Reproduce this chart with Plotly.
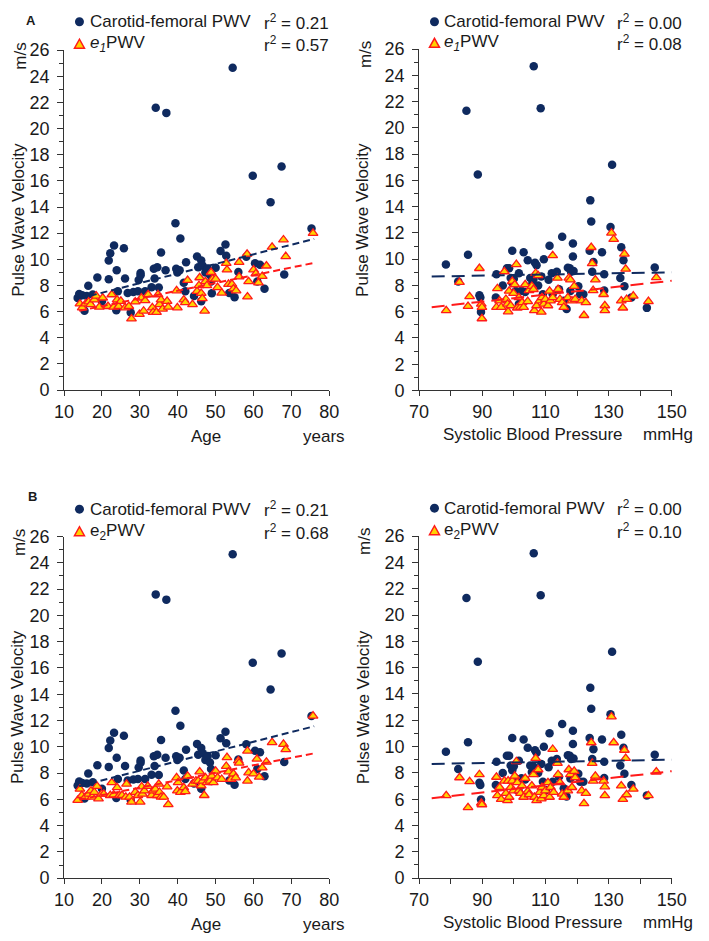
import plotly.graph_objects as go

# ---------------- data ----------------
cf_age = [13.6,14,14.8,15.4,16,16.4,17.6,18.8,20,21.8,21.8,22.2,23.2,23.8,23.9,24.2,25.8,26.1,26.8,27.6,28.3,29.5,29.7,30.2,30.2,31.4,33.1,33.7,33.9,34.2,34.6,35,35.6,36.8,37,39.4,39.6,39.9,40.5,40.7,41.6,42,42.2,44.3,45.1,45.4,46.2,46.2,46.6,47.3,47.9,48.5,48.8,49,50,51.3,52.6,52.8,53.6,54.5,55,56,58.1,59.8,60.4,61,61.7,62.9,64.5,67.4,68.1,75.3]
cf_pwv_age = [7.05,7.35,7.25,6.06,7.2,7.97,7.3,8.6,6.8,8.47,9.9,10.47,11.06,6.1,9.16,7.55,10.84,8.54,7.43,5.94,7.5,7.55,8.42,8.96,8.79,7.55,7.87,9.28,8.54,21.6,9.4,7.85,10.52,9.16,21.2,12.75,9.28,9.0,9.16,11.6,8.2,7.55,9.78,7.2,10.22,9.4,9.9,6.8,9.5,9.0,9.3,8.8,8.3,7.4,9.36,10.64,11.14,10.27,7.43,24.66,7.1,9.03,10.2,16.4,9.7,8.3,9.58,7.75,14.36,17.1,8.84,12.35]

cf_sbp = [78.5,82.4,85,85.5,88.6,89.1,89.4,89.6,94.3,94.5,96.5,97.8,98.5,99,99.5,99.5,100,100.6,101.6,101.6,102.4,103.1,103.6,104.4,105.2,105.7,106.2,106.3,106.7,107.2,107.7,108.5,108.7,109.2,109.5,110.2,111,111.3,112,112.3,113.6,114.3,115.3,115.8,116.7,117.1,117.7,117.9,118.1,118.7,118.7,118.9,120.4,121,122,124,124.2,124.5,124.8,125.2,127.9,128.6,128.6,130.6,131.1,133.7,134,134.7,135,137.2,142.1,144.6]
cf_pwv_sbp = [9.6,8.3,21.3,10.33,16.45,7.25,7.08,5.97,7.08,8.85,8.0,9.3,9.3,8.56,10.65,8.2,8.5,7.57,6.58,8.93,7.6,10.53,7.5,9.91,8.56,8.06,8.48,24.7,9.72,9.54,8.0,21.5,8.68,7.32,9.99,6.7,8.43,11.02,8.93,7.32,9.05,7.7,11.71,6.83,6.2,9.35,9.3,7.57,9.05,11.2,10.2,9.1,7.94,7.32,7.32,10.65,14.48,12.87,9.05,9.79,10.53,8.85,7.62,12.45,17.2,8.56,10.9,9.91,7.94,7.08,6.29,9.37]

e1_age = [14.2,14.8,15.7,16.5,17,18,18.5,19.3,20.2,21.6,22.6,23.1,24,24.4,25,26.1,27.1,27.8,28.8,29.9,30.4,31,31.4,32.2,33.3,33.5,34.4,34.8,35.2,35.6,36,37.2,37.5,39.7,39.9,41.6,42,42.6,43.9,45.1,45.6,45.8,46.2,46.5,47.1,47.3,47.7,48.8,49.2,50,50.5,51.6,52.8,53,53.4,54.3,54.7,55.4,56.2,56.2,58.3,58.4,58.7,60,60.6,61.3,62.3,63.4,64.9,67.9,68.5,75.7]
e1_pwv_age = [6.6,6.3,6.6,6.75,6.55,6.9,7.2,6.35,7.05,6.4,7.3,6.35,6.9,6.4,6.8,6.3,6.4,5.45,6.75,5.8,7.05,6.05,6.85,7.3,6.3,5.95,5.95,7.3,6.55,6.9,6.2,6.8,6.35,7.6,6.3,6.9,6.7,8.4,6.55,7.55,8.0,8.6,7.4,7.0,6.05,8.3,8.0,9.0,8.5,8.5,7.85,7.43,9.7,9.2,8.1,8.1,7.75,7.6,9.78,8.66,10.4,7.13,8.3,9.2,8.9,8.2,8.7,9.5,10.94,11.5,10.22,12.0]

e1_sbp = [78.6,82.8,85.5,86,89.1,89.7,89.9,89.9,94.5,94.8,95.5,96,97,97.5,98,98.2,98.5,99,99.5,99.9,100.3,100.8,101.1,101.6,102.1,102.6,103.1,103.6,104.4,104.8,105.7,106.2,106.5,106.9,107.2,107.7,108.2,108.7,108.9,109.5,110,110.8,111.3,111.6,112.3,112.3,113.8,114,114.6,115.3,115.8,117.1,117.4,117.9,118.4,119.1,119.4,121.5,122.2,122.8,124.5,124.8,125.1,125.8,128.4,128.8,128.8,130.9,131.6,134,134.5,135,135.4,135.7,137.8,142.6,145.1]
e1_pwv_sbp = [6.09,8.24,6.41,7.15,9.3,6.58,6.34,5.47,6.34,7.77,6.83,6.34,9.05,6.95,6.58,6.0,7.57,6.46,8.31,7.4,8.06,9.6,6.29,7.08,6.34,6.7,6.34,8.06,6.78,7.62,7.94,7.7,6.09,8.93,6.46,8.75,6.83,5.97,7.08,6.58,6.95,6.46,7.57,6.83,10.28,7.08,8.56,7.7,6.95,6.7,6.34,7.08,8.56,8.43,6.83,7.94,6.95,6.83,5.72,6.7,10.9,9.67,7.62,8.43,7.32,6.46,6.09,12.0,11.52,6.83,6.29,10.4,9.25,6.95,7.2,6.78,8.6]

e2_age = [13.6,14.2,14.7,15.6,16.5,17.1,17.4,18,18.7,19.1,19.9,20.5,22.2,22.6,23.1,24,24.6,25.3,26.5,26.3,27.3,27.8,28.8,29.5,30.1,30.5,30.7,31.2,32.1,33.1,33.5,34.1,34.6,35,35.2,35.6,36.3,37.2,37.5,39.7,39.9,40.1,40.7,41.6,42,42.6,43.9,44.8,45.4,45.8,46.2,46.6,47,47.3,47.7,48.5,49,49.4,50,50.5,51.6,52.8,53,53.4,54.1,54.7,55.3,56,56.2,58.4,58.4,58.7,60,60.9,61.5,62.3,63.4,64.9,67.9,68.5,75.7]
e2_pwv_age = [5.93,6.78,6.3,6.17,6.4,6.65,6.17,6.54,7.0,6.05,6.4,6.4,6.3,7.28,6.35,6.9,6.3,6.3,7.16,6.17,6.17,5.8,6.54,6.3,5.8,6.96,6.4,6.65,7.0,6.3,6.65,6.78,6.3,7.16,6.54,6.17,6.17,6.96,5.6,7.65,6.65,7.28,6.54,6.9,6.6,7.77,7.16,7.4,7.4,8.1,7.04,7.4,6.3,7.65,7.28,7.4,7.77,7.28,8.15,7.65,7.53,8.52,9.19,8.1,7.53,7.94,7.65,8.94,8.77,9.68,7.4,8.03,7.94,9.07,7.7,8.4,8.84,10.33,10.2,9.8,12.35]

e2_sbp = [78.6,82.8,85.5,86,89.1,89.7,89.9,94.5,94.8,95.5,96,97,97.5,98,98.2,98.5,99,99.5,99.9,100.3,100.8,101.1,101.6,102.1,102.6,103.1,103.6,104.4,104.8,105.7,106.2,106.5,106.9,107.2,107.7,108.2,108.7,108.9,109.5,110,110.8,111.3,111.6,112.3,112.6,113.8,114,114.6,115.3,115.8,117.1,117.4,117.9,118.4,119.1,119.4,121.5,122.2,122.8,124.5,124.8,125.1,125.8,128.4,128.8,128.8,130.9,131.6,134,134.5,135,135.4,135.7,137.8,142.6,145.1]
e2_pwv_sbp = [6.28,7.64,5.37,7.34,7.88,5.71,5.59,7.68,6.28,6.9,5.99,7.39,6.45,5.91,7.39,6.16,6.9,7.39,6.65,7.76,8.87,7.27,6.65,6.45,7.02,6.16,7.59,6.6,6.35,7.02,7.88,6.16,9.11,5.91,8.25,6.53,6.03,6.9,6.28,6.65,7.27,6.16,6.9,9.8,6.53,8.74,7.88,7.27,6.4,6.16,6.65,8.25,7.88,6.9,8.13,7.64,6.65,5.67,6.45,10.3,8.74,7.39,7.76,7.39,6.95,6.28,12.27,10.3,7.02,5.99,9.73,9.11,6.35,6.77,6.28,8.08]

# regression lines (end values)
trend_age_x = [14, 76]
cf_trend_age = [7.0, 11.56]
e1_trend_age = [6.06, 9.73]
e2_trend_age = [5.98, 9.5]
trend_sbp_x = [74, 150]
cf_trend_sbp = [8.68, 9.0]
e1_trend_sbp = [6.34, 8.36]
e2_trend_sbp = [6.08, 8.13]

r2_labels = {
    "A_age": ["0.21", "0.57"], "A_sbp": ["0.00", "0.08"],
    "B_age": ["0.21", "0.68"], "B_sbp": ["0.00", "0.10"],
}

# ---------------- styling ----------------
W, H = 709, 941
NAVY = "#0f2a5f"
RED = "#ff1a1a"
YEL = "#ffd200"
FONT = "Liberation Sans, Arial, sans-serif"
TXT = "#1a1a1a"
FS = 17

def px(x):
    return x / W

def py(y):
    return 1 - y / H

fig = go.Figure()

panels = [
    ("A_age", "x", "y", (56, 331), (41, 388.3)),
    ("A_sbp", "x2", "y2", (424, 686), (40, 388.7)),
    ("B_age", "x3", "y3", (56, 331), (538, 887)),
    ("B_sbp", "x4", "y4", (424, 686), (537.5, 887)),
]

data_map = {
    "A_age": (cf_age, cf_pwv_age, e1_age, e1_pwv_age, trend_age_x, cf_trend_age, e1_trend_age),
    "A_sbp": (cf_sbp, cf_pwv_sbp, e1_sbp, e1_pwv_sbp, trend_sbp_x, cf_trend_sbp, e1_trend_sbp),
    "B_age": (cf_age, cf_pwv_age, e2_age, e2_pwv_age, trend_age_x, cf_trend_age, e2_trend_age),
    "B_sbp": (cf_sbp, cf_pwv_sbp, e2_sbp, e2_pwv_sbp, trend_sbp_x, cf_trend_sbp, e2_trend_sbp),
}

for name, xa, ya, (x0, x1), (yt, yb) in panels:
    cx, cy, ex, ey, tx, tcf, te = data_map[name]
    is_age = name.endswith("age")
    dash = "7px,4px" if is_age else "13px,7px"
    fig.add_trace(go.Scatter(x=cx, y=cy, mode="markers", xaxis=xa, yaxis=ya,
                             marker=dict(symbol="circle", size=8.5, color=NAVY, line=dict(width=0)),
                             showlegend=False, cliponaxis=False))
    fig.add_trace(go.Scatter(x=ex, y=ey, mode="markers", xaxis=xa, yaxis=ya,
                             marker=dict(symbol="triangle-up", size=8.5, color=YEL,
                                         line=dict(width=1.3, color=RED)),
                             showlegend=False, cliponaxis=False))
    fig.add_trace(go.Scatter(x=tx, y=tcf, mode="lines", xaxis=xa, yaxis=ya,
                             line=dict(color=NAVY, width=2, dash=dash), showlegend=False))
    fig.add_trace(go.Scatter(x=tx, y=te, mode="lines", xaxis=xa, yaxis=ya,
                             line=dict(color=RED, width=2, dash=dash), showlegend=False))

    suffix = "" if xa == "x" else xa[1:]
    xkey = "xaxis" + suffix
    ykey = "yaxis" + suffix
    if is_age:
        xax = dict(range=[10, 80], tickmode="linear", tick0=10, dtick=10)
    else:
        xax = dict(range=[70, 150], tickmode="linear", tick0=70, dtick=20,
                   minor=dict(ticks="outside", dtick=10, tick0=70, ticklen=5,
                              tickcolor="#333", showgrid=False))
    xax.update(domain=[px(x0), px(x1)], anchor=ya, showgrid=False, zeroline=False,
               showline=True, linecolor="#333", linewidth=1, ticks="outside",
               ticklen=5, tickcolor="#333", tickfont=dict(family=FONT, size=18, color=TXT),
               fixedrange=True)
    yax = dict(range=[0, 26], tickmode="linear", tick0=0, dtick=2,
               domain=[py(yb), py(yt)], anchor=xa, showgrid=False, zeroline=False,
               showline=True, linecolor="#333", linewidth=1, ticks="outside",
               ticklen=6, tickcolor="#333", tickfont=dict(family=FONT, size=18, color=TXT),
               ticklabelstandoff=4,
               minor=dict(ticks="outside", dtick=1, ticklen=4, tickcolor="#333", showgrid=False),
               fixedrange=True)
    fig.layout[xkey] = xax
    fig.layout[ykey] = yax

annotations = []
shapes = []

def ann(x, y, text, size=FS, xanchor="center", angle=0):
    annotations.append(dict(x=px(x), y=py(y), xref="paper", yref="paper", text=text,
                            showarrow=False, xanchor=xanchor, yanchor="middle",
                            textangle=angle, borderpad=0,
                            font=dict(family=FONT, size=size, color=TXT)))

# panel letters
ann(22, 11, "<b>A</b>", size=13)
ann(23, 497, "<b>B</b>", size=13)

# axis titles
for (name, xa, ya, (x0, x1), (yt, yb)) in panels:
    is_age = name.endswith("age")
    left_panel = x0 < 100
    ax_lab_x = 8 if left_panel else 366
    ms_x = 10 if left_panel else 368
    ann(ax_lab_x, (yt + yb) / 2, "Pulse Wave Velocity", angle=-90)
    ann(ms_x, yt + 6, "m/s", angle=-90)
    xlab_y = yb + 47
    if is_age:
        ann(203, xlab_y, "Age")
        ann(325, xlab_y, "years")
    else:
        ann(542, xlab_y - 2, "Systolic Blood Pressure")
        ann(682, xlab_y - 2, "mmHg")

# legends
legend_rows = [
    ("A_age", 72, 82, 332, 12, 35, "<i>e</i><sub><i>1</i></sub>PWV"),
    ("A_sbp", 440, 449, 698, 12, 34, "<i>e</i><sub><i>1</i></sub>PWV"),
    ("B_age", 72, 82, 332, 510, 533, "e<sub>2</sub>PWV"),
    ("B_sbp", 440, 449, 698, 509, 532, "e<sub>2</sub>PWV"),
]
for name, mx, tx, rx, r1, r2, lab2 in legend_rows:
    shapes.append(dict(type="circle", xref="paper", yref="paper",
                       xsizemode="pixel", ysizemode="pixel",
                       xanchor=px(mx), yanchor=py(r1),
                       x0=-4.5, x1=4.5, y0=-4.5, y1=4.5,
                       fillcolor=NAVY, line=dict(width=0)))
    shapes.append(dict(type="path", xref="paper", yref="paper",
                       xsizemode="pixel", ysizemode="pixel",
                       xanchor=px(mx), yanchor=py(r2),
                       path="M -5 -4 L 5 -4 L 0 5 Z",
                       fillcolor=YEL, line=dict(width=1.5, color=RED)))
    ann(tx, r1, "Carotid-femoral PWV", xanchor="left")
    ann(tx, r2, lab2, xanchor="left")
    ann(rx, r1, "r<sup>2</sup> = " + r2_labels[name][0], xanchor="right")
    ann(rx, r2, "r<sup>2</sup> = " + r2_labels[name][1], xanchor="right")

fig.update_layout(width=W, height=H, margin=dict(l=0, r=0, t=0, b=0),
                  paper_bgcolor="white", plot_bgcolor="white",
                  annotations=annotations, shapes=shapes, showlegend=False,
                  font=dict(family=FONT, color=TXT))

fig.write_html("out.html",
               config={"displayModeBar": False, "responsive": False},
               post_script="document.body.style.margin='0';document.body.style.overflow='hidden';")
